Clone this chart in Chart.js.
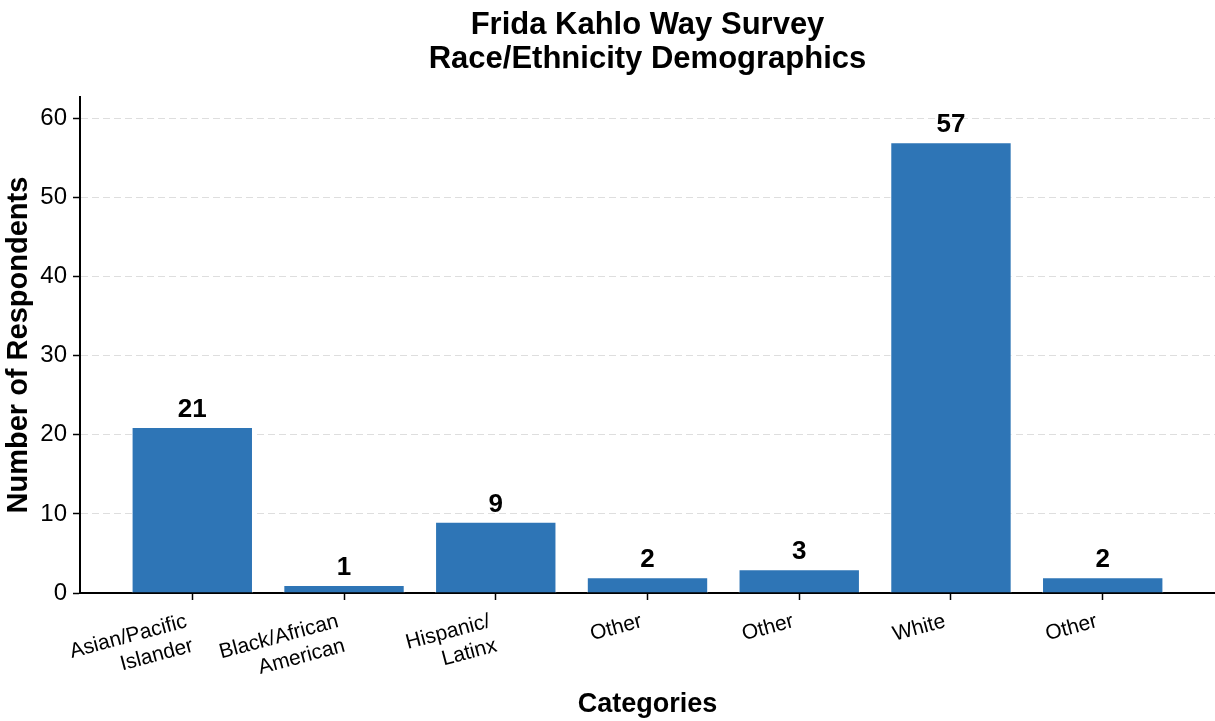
<!DOCTYPE html>
<html>
<head>
<meta charset="utf-8">
<title>Frida Kahlo Way Survey</title>
<script src="https://cdn.jsdelivr.net/npm/chart.js@4/dist/chart.umd.min.js"></script>
<style>
    html, body { margin: 0; padding: 0; background: #fff; }
    #wrap { width: 1215px; height: 721px; position: relative; }
</style>
</head>
<body>
<div id="wrap"><canvas id="raceChart"></canvas></div>
<script>
// Dữ liệu khảo sát
const categories = [
    ['Asian/Pacific', 'Islander'],
    ['Black/African', 'American'],
    ['Hispanic/', 'Latinx'],
    'Other',
    'Other',
    'White',
    'Other'
];
const respondents = [21, 1, 9, 2, 3, 57, 2];
const yTicks = [0, 10, 20, 30, 40, 50, 60];

const FONT = '"Liberation Sans", Arial, Helvetica, sans-serif';
const BAR_COLOR = '#2e75b6';

// Nhãn giá trị trên mỗi cột
const valueLabels = {
    id: 'valueLabels',
    afterDatasetsDraw(chart) {
        const ctx = chart.ctx;
        const meta = chart.getDatasetMeta(0);
        ctx.save();
        ctx.font = 'bold 26px ' + FONT;
        ctx.fillStyle = '#000';
        ctx.textAlign = 'center';
        ctx.textBaseline = 'alphabetic';
        meta.data.forEach((bar, i) => {
            ctx.fillText(String(respondents[i]), bar.x, bar.y - 10);
        });
        ctx.restore();
    }
};

const raceChart = new Chart(document.getElementById('raceChart'), {
    type: 'bar',
    data: {
        datasets: [{
            data: respondents.map((v, i) => ({ x: i, y: v })),
            backgroundColor: BAR_COLOR,
            borderColor: '#ffffff',
            borderWidth: 1,
            barPercentage: 0.8,
            categoryPercentage: 1.0
        }]
    },
    options: {
        responsive: true,
        maintainAspectRatio: false,
        animation: false,
        layout: { padding: { top: 0, right: 0, bottom: 0, left: 0 } },
        plugins: {
            legend: { display: false },
            tooltip: { enabled: false },
            title: {
                display: true,
                fullSize: false,
                text: ['Frida Kahlo Way Survey', 'Race/Ethnicity Demographics'],
                color: '#000',
                font: { family: FONT, size: 31, weight: 'bold', lineHeight: 1.1 },
                padding: { top: 8, bottom: 21 }
            }
        },
        scales: {
            x: {
                type: 'linear',
                offset: false,
                min: -0.74,
                max: 6.74,
                afterBuildTicks: scale => {
                    scale.ticks = categories.map((_, i) => ({ value: i }));
                },
                afterFit: scale => { scale.height = 128; },
                ticks: {
                    autoSkip: false,
                    minRotation: 15,
                    maxRotation: 15,
                    padding: 9,
                    labelOffset: -6,
                    color: '#000',
                    font: { family: FONT, size: 21, lineHeight: 1.2 },
                    callback: value => categories[value]
                },
                grid: {
                    offset: false,
                    drawOnChartArea: false,
                    drawTicks: true,
                    tickLength: 7,
                    tickColor: '#000',
                    tickWidth: 1.5
                },
                border: { display: true, color: '#000', width: 2 },
                title: {
                    display: true,
                    text: 'Categories',
                    color: '#000',
                    font: { family: FONT, size: 27, weight: 'bold' },
                    padding: { top: 0, bottom: 0 }
                }
            },
            y: {
                min: 0,
                max: 62.7,
                afterBuildTicks: scale => {
                    scale.ticks = yTicks.map(v => ({ value: v }));
                },
                afterFit: scale => { scale.width = 80; },
                ticks: {
                    padding: 6,
                    color: '#000',
                    font: { family: FONT, size: 24 }
                },
                grid: {
                    color: '#dedede',
                    lineWidth: 1,
                    tickLength: 7,
                    tickColor: '#000',
                    tickWidth: 1.5,
                    tickBorderDash: []
                },
                border: { display: true, color: '#000', width: 2, dash: [7, 4] },
                title: {
                    display: true,
                    text: 'Number of Respondents',
                    color: '#000',
                    font: { family: FONT, size: 29, weight: 'bold' },
                    padding: { top: 2, bottom: 0 }
                }
            }
        }
    },
    plugins: [valueLabels]
});
</script>
</body>
</html>
